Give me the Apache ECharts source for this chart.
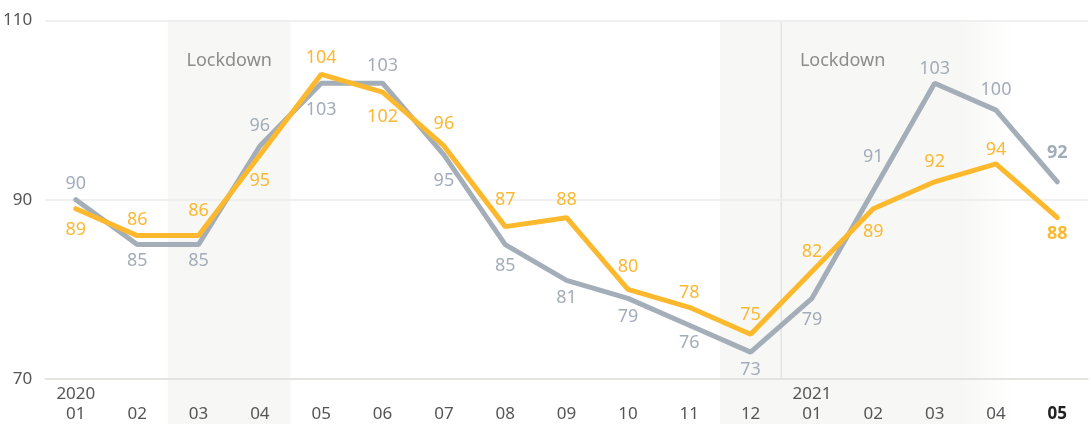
<!DOCTYPE html>
<html>
<head>
<meta charset="utf-8">
<style>
  html, body { margin: 0; padding: 0; background: #fff; }
  #chart { width: 1091px; height: 424px; }
</style>
</head>
<body>
<div id="chart"></div>
<script src="https://cdn.jsdelivr.net/npm/echarts@6/dist/echarts.min.js"></script>
<script>
// data
const months = ['01', '02', '03', '04', '05', '06', '07', '08', '09', '10', '11', '12',
  '01', '02', '03', '04', '05'];
const yearLabels = ['2020', '', '', '', '', '', '', '', '', '', '', '',
  '2021', '', '', '', ''];
const greyValues = [90, 85, 85, 96, 103, 103, 95, 85, 81, 79, 76, 73, 79, 91, 103, 100, 92];
const yellowValues = [89, 86, 86, 95, 104, 102, 96, 87, 88, 80, 78, 75, 82, 89, 92, 94, 88];
const yTicks = [70, 90, 110];
// lockdown periods: first and last month index
const lockdownStart = [2, 11];
const lockdownEnd = [3, 15];
const lockdownText = ['Lockdown', 'Lockdown'];

// label placement (style only)
const greyPos = ['top', 'bottom', 'bottom', 'top', 'bottom', 'top', 'bottom', 'bottom', 'bottom',
  'bottom', 'bottom', 'bottom', 'bottom', 'top', 'top', 'top', 'top'];
const greyDist = [6, 7, 7, 11, 17, 8, 16, 12, 8, 9, 8, 8, 12, 24, 5, 11, 19];
const yellowPos = ['bottom', 'top', 'top', 'bottom', 'top', 'bottom', 'top', 'top', 'top',
  'top', 'top', 'top', 'top', 'bottom', 'top', 'top', 'bottom'];
const yellowDist = [12, 6, 15, 16, 7, 15, 13, 17, 8, 13, 5, 10, 10, 14, 10, 5, 7];
const lockdownLabelAt = [2.5, 12.5];
const lockdownFade = [false, true];

const GREY = '#a4aeb8';
const YELLOW = '#fdb92e';
const SHADE = '247,247,245';
const FONT = "'Noto Sans', sans-serif";
const last = months.length - 1;

const chart = echarts.init(document.getElementById('chart'));

function points(values, pos, dist) {
  return values.map((v, i) => ({
    value: v,
    label: {
      position: pos[i],
      distance: dist[i],
      fontWeight: i === last ? 'bold' : 'normal'
    }
  }));
}

// 封锁期的阴影块 + 年份分隔线
function renderBand(params, api) {
  const i = params.dataIndex;
  const band = api.size([1, 0])[0];
  const half = band / 2;
  const x0 = api.coord([api.value(0), yTicks[0]])[0] - half;
  const x1 = api.coord([api.value(1), yTicks[0]])[0] + half;
  const top = api.coord([0, yTicks[yTicks.length - 1]])[1];
  const bottom = api.coord([0, yTicks[0]])[1];
  const at = lockdownLabelAt[i];
  const textX = api.coord([Math.floor(at), yTicks[0]])[0] + (at - Math.floor(at)) * band;
  let fill = 'rgb(' + SHADE + ')';
  if (lockdownFade[i]) {
    fill = new echarts.graphic.LinearGradient(0, 0, 1, 0, [
      { offset: 0, color: 'rgba(' + SHADE + ',1)' },
      { offset: 0.79, color: 'rgba(' + SHADE + ',1)' },
      { offset: 0.95, color: 'rgba(' + SHADE + ',0)' }
    ]);
  }
  const children = [{
    type: 'rect',
    shape: { x: x0, y: top, width: x1 - x0, height: api.getHeight() - top },
    style: { fill: fill }
  }, {
    type: 'text',
    style: {
      text: lockdownText[i],
      x: textX,
      y: api.coord([0, 105.5])[1],
      fill: '#8c8c8c',
      fontSize: 18,
      fontFamily: FONT,
      align: 'center',
      verticalAlign: 'middle'
    }
  }];
  // year boundary line
  yearLabels.forEach((y, k) => {
    if (y && k > 0 && k >= api.value(0) && k <= api.value(1)) {
      const lx = api.coord([k, yTicks[0]])[0] - half;
      children.push({
        type: 'line',
        shape: { x1: lx, y1: top, x2: lx, y2: bottom },
        style: { stroke: '#e4e4e4', lineWidth: 1.5 }
      });
    }
  });
  return { type: 'group', children: children };
}

chart.setOption({
  animation: false,
  textStyle: { fontFamily: FONT },
  grid: { left: 44, right: 3, top: 20.5, bottom: 43.7 },
  xAxis: {
    type: 'category',
    data: months,
    boundaryGap: true,
    axisTick: { show: false },
    axisLine: { lineStyle: { color: '#e0dfda', width: 1.5 } },
    axisLabel: {
      interval: 0,
      margin: 5,
      color: '#555',
      fontSize: 17,
      lineHeight: 20,
      formatter: (value, index) => {
        const year = yearLabels[index] || ' ';
        return year + '\n' + (index === last ? '{b|' + value + '}' : value);
      },
      rich: {
        b: { fontWeight: 'bold', color: '#222', fontSize: 17, lineHeight: 20 }
      }
    }
  },
  yAxis: {
    type: 'value',
    min: yTicks[0],
    max: yTicks[yTicks.length - 1],
    interval: yTicks[1] - yTicks[0],
    axisLine: { show: false },
    axisTick: { show: false },
    axisLabel: { color: '#555', fontSize: 17, margin: 13 },
    splitLine: { lineStyle: { color: '#ebebeb', width: 1.5 } }
  },
  series: [
    {
      type: 'custom',
      z: -1,
      silent: true,
      renderItem: renderBand,
      encode: { x: [0, 1] },
      data: lockdownStart.map((s, i) => [s, lockdownEnd[i]])
    },
    {
      name: 'grey',
      type: 'line',
      data: points(greyValues, greyPos, greyDist),
      symbol: 'circle',
      symbolSize: 1,
      itemStyle: { color: GREY },
      lineStyle: { color: GREY, width: 5, cap: 'round' },
      label: { show: true, color: '#a3adb9', fontSize: 18 }
    },
    {
      name: 'yellow',
      type: 'line',
      data: points(yellowValues, yellowPos, yellowDist),
      symbol: 'circle',
      symbolSize: 1,
      itemStyle: { color: YELLOW },
      lineStyle: { color: YELLOW, width: 5, cap: 'round' },
      label: { show: true, color: '#fbb833', fontSize: 18 }
    }
  ]
});
</script>
</body>
</html>
